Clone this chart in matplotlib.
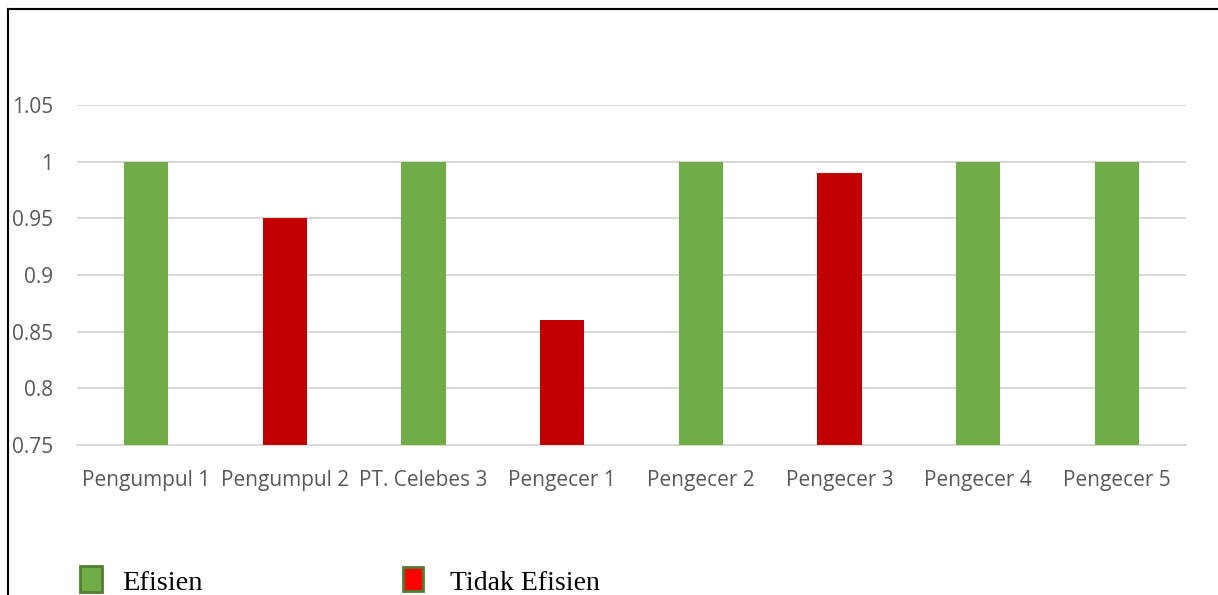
import matplotlib
matplotlib.use('Agg')
import matplotlib.pyplot as plt
from matplotlib.patches import Rectangle
from matplotlib.lines import Line2D

categories = ['Pengumpul 1', 'Pengumpul 2', 'PT. Celebes 3', 'Pengecer 1',
              'Pengecer 2', 'Pengecer 3', 'Pengecer 4', 'Pengecer 5']
values = [1.0, 0.95, 1.0, 0.86, 1.0, 0.99, 1.0, 1.0]
efisien = [True, False, True, False, True, False, True, True]
yticks = [0.75, 0.8, 0.85, 0.9, 0.95, 1.0, 1.05]
ytick_labels = ['0.75', '0.8', '0.85', '0.9', '0.95', '1', '1.05']

green = '#70AD47'
dark_red = '#C00000'
colors = [green if e else dark_red for e in efisien]

W, H = 1218, 595
fig = plt.figure(figsize=(W / 100, H / 100), dpi=100)
ax = fig.add_axes([77 / W, 1 - 445 / H, (1186 - 77) / W, (445 - 105) / H])

x = range(len(categories))
ax.bar(x, values, width=0.32, color=colors, zorder=3)

ax.set_xlim(-0.5, len(categories) - 0.5)
ax.set_ylim(0.75, 1.05)
ax.set_yticks(yticks)
ax.set_yticklabels(ytick_labels)
ax.set_xticks(list(x))
ax.set_xticklabels(categories)
ax.yaxis.grid(True, color='#D9D9D9', linewidth=1.5, zorder=0)
for s in ['top', 'right', 'left']:
    ax.spines[s].set_visible(False)
ax.spines['bottom'].set_color('#D9D9D9')
ax.spines['bottom'].set_linewidth(1.5)
ax.tick_params(axis='both', length=0, labelcolor='#595959', labelsize=15)
ax.tick_params(axis='x', pad=18)
ax.tick_params(axis='y', pad=17)
for lab in ax.get_xticklabels() + ax.get_yticklabels():
    lab.set_family('Open Sans')

# frame lines (top and left)
fig.add_artist(Line2D([8 / W, 1], [1 - 9 / H, 1 - 9 / H], color='black', lw=1.5))
fig.add_artist(Line2D([8 / W, 8 / W], [0, 1 - 9 / H], color='black', lw=1.5))

# legend
fig.add_artist(Rectangle((80 / W, 1 - 592 / H), 22 / W, 26 / H,
                         facecolor=green, edgecolor='#507E32', lw=2))
fig.text(122 / W, 1 - 590 / H, 'Efisien', family='Liberation Serif',
         fontsize=20.5, va='baseline', color='black')
fig.add_artist(Rectangle((403 / W, 1 - 591 / H), 20 / W, 24 / H,
                         facecolor='#FF0000', edgecolor='#507E32', lw=2))
fig.text(450 / W, 1 - 590 / H, 'Tidak Efisien', family='Liberation Serif',
         fontsize=20, va='baseline', color='black')

fig.savefig('out.png', dpi=100)
